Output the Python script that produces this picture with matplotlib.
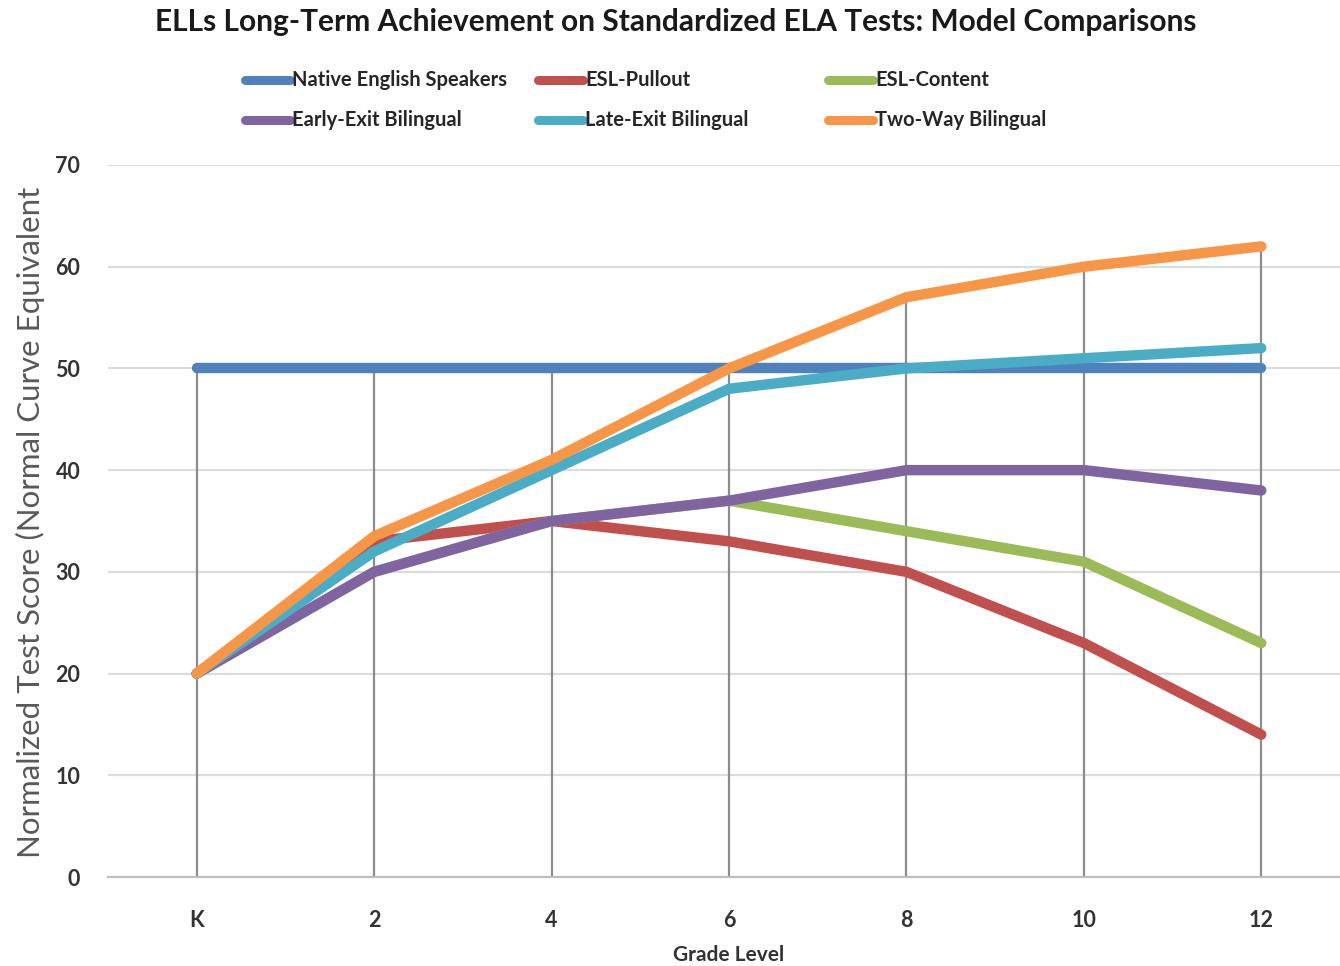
import matplotlib.pyplot as plt
from matplotlib.lines import Line2D

grades = ["K", "2", "4", "6", "8", "10", "12"]

native_english = [50, 50, 50, 50, 50, 50, 50]
esl_pullout = [20, 33, 35, 33, 30, 23, 14]
esl_content = [20, 30, 35, 37, 34, 31, 23]
early_exit = [20, 30, 35, 37, 40, 40, 38]
late_exit = [20, 32, 40, 48, 50, 51, 52]
two_way = [20, 33.5, 41, 50, 57, 60, 62]

series_names = ["Native English Speakers", "ESL-Pullout", "ESL-Content",
                "Early-Exit Bilingual", "Late-Exit Bilingual", "Two-Way Bilingual"]
series_values = [native_english, esl_pullout, esl_content,
                 early_exit, late_exit, two_way]
colors = ["#4F81BD", "#C0504D", "#9BBB59", "#8064A2", "#4BACC6", "#F79646"]

W, H = 1340, 966
fig = plt.figure(figsize=(W / 100, H / 100), dpi=100)
fig.patch.set_facecolor("white")
font = ["Lato", "DejaVu Sans"]

# axes box in pixel terms: left edge 108, K..12 spaced evenly, 0 at y=877, 70 at y=165
ax = fig.add_axes([108 / W, 1 - 877 / H, (1350 - 108) / W, (877 - 165) / H])
x = list(range(len(grades)))

ax.set_xlim(-0.5, len(grades) - 0.5)
ax.set_ylim(0, 70)
ax.set_yticks(range(0, 71, 10))
ax.grid(axis="y", color="#DCDCDC", linewidth=1.6)
ax.set_axisbelow(True)

# drop lines from the highest series down to the axis
tops = [max(v[i] for v in series_values) for i in x]
ax.vlines(x, 0, tops, color="#8C8C8C", linewidth=1.6, zorder=1)

for vals, col in zip(series_values, colors):
    ax.plot(x, vals, color=col, linewidth=7.5, solid_capstyle="round",
            solid_joinstyle="round", zorder=2)

for side in ["top", "right", "left"]:
    ax.spines[side].set_visible(False)
ax.spines["bottom"].set_color("#BFBFBF")
ax.spines["bottom"].set_linewidth(1.6)

ax.set_xticks(x)
ax.set_xticklabels(grades)
ax.tick_params(axis="both", length=0, labelcolor="#333333")
ax.tick_params(axis="x", pad=24)
ax.tick_params(axis="y", pad=20)
for lbl in ax.get_xticklabels() + ax.get_yticklabels():
    lbl.set_fontfamily(font)
    lbl.set_fontweight("bold")
    lbl.set_fontsize(15.5)

ax.set_xlabel("Grade Level", fontsize=15, fontweight="bold", color="#333333",
              family=font, labelpad=10)
fig.text(30 / W, 1 - 522 / H, "Normalized Test Score (Normal Curve Equivalent",
         rotation=90, ha="center", va="center", fontsize=22.5, color="#595959",
         family=font)

fig.text(676 / W, 1 - 22 / H,
         "ELLs Long-Term Achievement on Standardized ELA Tests: Model Comparisons",
         ha="center", va="center", fontsize=21.5, fontweight="bold",
         color="#1a1a1a", family=font)

# legend laid out by hand: three columns, two rows
col_x = [245, 538, 828]
row_y = [80, 120]
for i, (name, col) in enumerate(zip(series_names, colors)):
    cx = col_x[i % 3]
    cy = row_y[i // 3]
    fig.add_artist(Line2D([cx / W, (cx + 45) / W], [1 - cy / H, 1 - cy / H],
                          color=col, linewidth=6.5, solid_capstyle="round"))
    fig.text((cx + 47) / W, 1 - cy / H, name, ha="left", va="center",
             fontsize=14.5, fontweight="bold", color="#262626", family=font)

fig.savefig("out.png", dpi=100)
